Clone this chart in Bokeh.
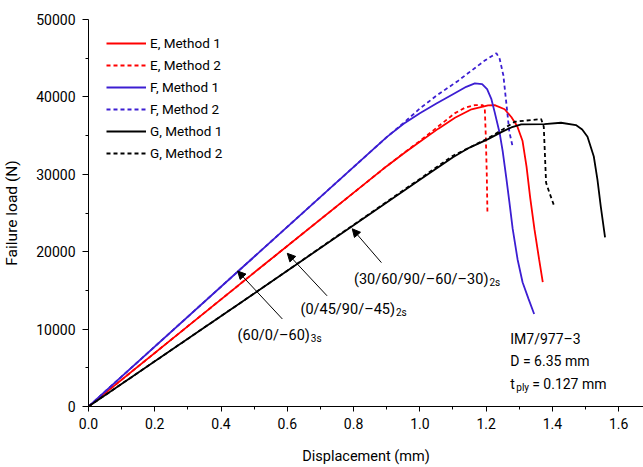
from bokeh.plotting import figure
from bokeh.models import (FixedTicker, NumeralTickFormatter, Legend, LegendItem,
                          Arrow, NormalHead, Label, Range1d)
from bokeh.embed import file_html
from bokeh.resources import INLINE

FONT = "Roboto"

# ---- ticks ----
x_ticks = [0.0, 0.2, 0.4, 0.6, 0.8, 1.0, 1.2, 1.4, 1.6]
x_minor = [0.1, 0.3, 0.5, 0.7, 0.9, 1.1, 1.3, 1.5]
y_ticks = [0, 10000, 20000, 30000, 40000, 50000]
y_minor = [5000, 15000, 25000, 35000, 45000]

# ---- data (displacement mm, failure load N) ----
E1_x = [0, 0.5, 0.9, 0.956, 1.0, 1.056, 1.106, 1.156, 1.206, 1.226, 1.256, 1.276,
        1.294, 1.31, 1.322, 1.333, 1.346, 1.36, 1.371]
E1_y = [0, 17300, 31050, 32850, 34200, 35900, 37300, 38400, 38900, 38940, 38400, 37400,
        36200, 34300, 31000, 27000, 22870, 19000, 16060]

E2_x = [0, 0.5, 0.9, 0.956, 1.0, 1.056, 1.106, 1.136, 1.166, 1.19, 1.196, 1.199,
        1.202, 1.204]
E2_y = [0, 17300, 31050, 32900, 34300, 36200, 37900, 38600, 38940, 38940, 38500, 35000,
        30000, 25000]

F1_x = [0, 0.5, 0.9, 0.95, 1.0, 1.05, 1.1, 1.14, 1.166, 1.188, 1.203, 1.216,
        1.226, 1.241, 1.25, 1.261, 1.27, 1.28, 1.295, 1.31, 1.328, 1.345]
F1_y = [0, 19350, 34800, 36500, 37900, 39150, 40350, 41300, 41750, 41650, 41000, 39700,
        38000, 35300, 33000, 29500, 26500, 23000, 19000, 16060, 13900, 11950]

F2_x = [0, 0.5, 0.9, 0.95, 1.0, 1.05, 1.116, 1.196, 1.231, 1.241, 1.252, 1.262,
        1.27, 1.281]
F2_y = [0, 19350, 34800, 36600, 38500, 40150, 42100, 44700, 45650, 44900, 42800, 38800,
        35500, 33400]

G1_x = [0, 0.5, 1.0, 1.1, 1.15, 1.206, 1.246, 1.276, 1.306, 1.376, 1.426, 1.471,
        1.49, 1.506, 1.525, 1.536, 1.546, 1.559]
G1_y = [0, 14600, 29300, 32200, 33450, 34550, 35450, 36050, 36450, 36490, 36660, 36360,
        35800, 34860, 32300, 29300, 25870, 21850]

G2_x = [0, 0.5, 1.0, 1.1, 1.206, 1.25, 1.286, 1.366, 1.374, 1.381, 1.391, 1.404]
G2_y = [0, 14600, 29400, 32400, 34650, 35800, 36790, 37140, 36150, 28900, 27630, 26080]

RED = "#ff0000"
BLUE = "#3c1ed2"
BLACK = "#000000"

p = figure(width=643, height=467, output_backend="svg", toolbar_location=None,
           x_range=Range1d(0, 1.675), y_range=Range1d(0, 50000),
           min_border_left=85, min_border_right=0, min_border_top=19,
           min_border_bottom=59)
p.outline_line_color = None
p.xgrid.visible = False
p.ygrid.visible = False
p.background_fill_color = "white"
p.border_fill_color = "white"

for ax in (p.xaxis[0], p.yaxis[0]):
    ax.axis_line_color = "black"
    ax.major_tick_line_color = "black"
    ax.minor_tick_line_color = "black"
    ax.major_tick_in = 0
    ax.minor_tick_in = 0
    ax.major_label_text_font = FONT
    ax.major_label_text_font_size = "14px"
    ax.major_label_text_color = "black"
    ax.axis_label_text_font = FONT
    ax.axis_label_text_font_style = "normal"
    ax.axis_label_text_color = "black"

p.xaxis[0].ticker = FixedTicker(ticks=x_ticks, minor_ticks=x_minor)
p.yaxis[0].ticker = FixedTicker(ticks=y_ticks, minor_ticks=y_minor)
p.xaxis[0].formatter = NumeralTickFormatter(format="0.0")
p.yaxis[0].formatter = NumeralTickFormatter(format="0")
p.xaxis[0].major_tick_out = 5
p.xaxis[0].minor_tick_out = 3
p.yaxis[0].major_tick_out = 6
p.yaxis[0].minor_tick_out = 3
p.xaxis[0].major_label_standoff = 6
p.yaxis[0].major_label_standoff = 7
p.xaxis[0].axis_label = "Displacement (mm)"
p.yaxis[0].axis_label = "Failure load (N)"
p.xaxis[0].axis_label_text_font_size = "14.5px"
p.yaxis[0].axis_label_text_font_size = "15.5px"
p.xaxis[0].axis_label_standoff = 16
p.yaxis[0].axis_label_standoff = 12

lw = 1.8
dash = "4 3"
rE1 = p.line(E1_x, E1_y, line_color=RED, line_width=lw)
rE2 = p.line(E2_x, E2_y, line_color=RED, line_width=lw, line_dash=dash)
rF1 = p.line(F1_x, F1_y, line_color=BLUE, line_width=lw)
rF2 = p.line(F2_x, F2_y, line_color=BLUE, line_width=lw, line_dash=dash)
rG1 = p.line(G1_x, G1_y, line_color=BLACK, line_width=lw)
rG2 = p.line(G2_x, G2_y, line_color=BLACK, line_width=lw, line_dash=dash)

legend = Legend(items=[
    LegendItem(label="E, Method 1", renderers=[rE1]),
    LegendItem(label="E, Method 2", renderers=[rE2]),
    LegendItem(label="F, Method 1", renderers=[rF1]),
    LegendItem(label="F, Method 2", renderers=[rF2]),
    LegendItem(label="G, Method 1", renderers=[rG1]),
    LegendItem(label="G, Method 2", renderers=[rG2]),
], location=(18, 243))
legend.background_fill_alpha = 0
legend.border_line_alpha = 0
legend.padding = 0
legend.margin = 0
legend.spacing = 2
legend.glyph_width = 40
legend.glyph_height = 20
legend.label_height = 20
legend.label_standoff = 4
legend.label_text_font = FONT
legend.label_text_font_size = "13.5px"
legend.label_text_color = "black"
p.add_layout(legend)

# ---- annotations: arrows pointing at the layup curves ----
arrows = [
    (0.585, 11310, 0.450, 17510),
    (0.720, 14300, 0.600, 19790),
    (0.884, 18590, 0.796, 22960),
]
for xs, ys, xe, ye in arrows:
    p.add_layout(Arrow(end=NormalHead(size=8, fill_color="black", line_color="black",
                                      line_width=1),
                       x_start=xs, y_start=ys, x_end=xe, y_end=ye,
                       line_color="black", line_width=1))

layups = [
    ("(60/0/–60)", "3s", 0.668, 9120),
    ("(0/45/90/–45)", "2s", 0.925, 12590),
    ("(30/60/90/–60/–30)", "2s", 1.207, 16450),
]
for main, sub, x, y in layups:
    p.add_layout(Label(x=x, y=y, text=main, text_align="right", text_baseline="middle",
                       text_font=FONT, text_font_size="14.5px", text_color="black"))
    p.add_layout(Label(x=x, y=y, x_offset=1, y_offset=-3, text=sub, text_align="left",
                       text_baseline="middle", text_font=FONT, text_font_size="10px",
                       text_color="black"))

info = [
    ("IM7/977–3", 1.273, 8740),
    ("D = 6.35 mm", 1.273, 5910),
]
for t, x, y in info:
    p.add_layout(Label(x=x, y=y, text=t, text_align="left", text_baseline="middle",
                       text_font=FONT, text_font_size="14px", text_color="black"))
p.add_layout(Label(x=1.273, y=2955, text="t", text_align="left", text_baseline="middle",
                   text_font=FONT, text_font_size="14px", text_color="black"))
p.add_layout(Label(x=1.291, y=2440, text="ply", text_align="left", text_baseline="middle",
                   text_font=FONT, text_font_size="10px", text_color="black"))
p.add_layout(Label(x=1.339, y=2955, text="= 0.127 mm", text_align="left",
                   text_baseline="middle", text_font=FONT, text_font_size="14px",
                   text_color="black"))

open("out.html", "w").write(file_html(p, INLINE))
